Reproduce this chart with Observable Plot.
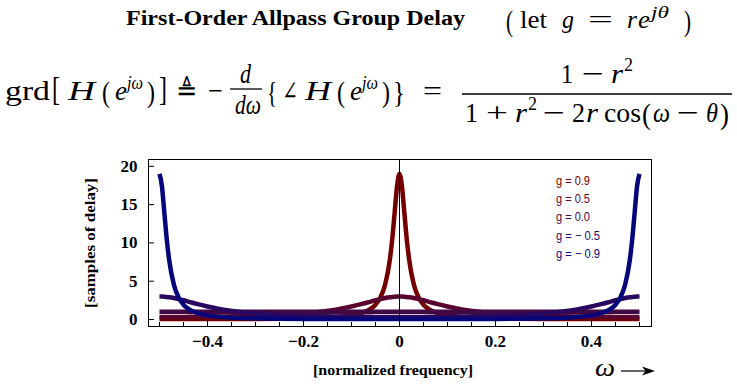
<!DOCTYPE html>
<html><head><meta charset="utf-8">
<script src="https://cdn.jsdelivr.net/npm/d3@7"></script>
<script src="https://cdn.jsdelivr.net/npm/@observablehq/plot@0.6"></script>
<style>
html,body{margin:0;padding:0;background:#fff;}
#page{position:relative;width:737px;height:387px;overflow:hidden;background:#fff;}
#page svg.layer{position:absolute;left:0;top:0;}
#chart{position:absolute;left:0;top:140px;}
</style></head><body><div id="page"><div id="chart"></div></div>
<script>
// ---------- data ----------
const freq = [-0.5,-0.495,-0.49,-0.485,-0.48,-0.47,-0.46,-0.45,-0.44,-0.42,-0.4,-0.37,-0.34,-0.3,-0.25,-0.2,-0.16,-0.13,-0.1,-0.08,-0.06,-0.05,-0.04,-0.03,-0.02,-0.015,-0.01,-0.005,0,0.005,0.01,0.015,0.02,0.03,0.04,0.05,0.06,0.08,0.1,0.13,0.16,0.2,0.25,0.3,0.34,0.37,0.4,0.42,0.44,0.45,0.46,0.47,0.48,0.485,0.49,0.495,0.5];
const delayG09 = [0.053,0.053,0.053,0.053,0.053,0.053,0.054,0.054,0.055,0.056,0.058,0.063,0.069,0.080,0.105,0.152,0.225,0.329,0.537,0.817,1.393,1.937,2.855,4.54,7.85,10.56,14.02,17.45,19,17.45,14.02,10.56,7.85,4.54,2.855,1.937,1.393,0.817,0.537,0.329,0.225,0.152,0.105,0.080,0.069,0.063,0.058,0.056,0.055,0.054,0.054,0.053,0.053,0.053,0.053,0.053,0.053];
const delayG05 = [0.333,0.333,0.334,0.334,0.335,0.336,0.338,0.341,0.344,0.353,0.364,0.388,0.420,0.481,0.6,0.797,1.050,1.326,1.701,2.007,2.342,2.509,2.665,2.802,2.908,2.948,2.977,2.994,3,2.994,2.977,2.948,2.908,2.802,2.665,2.509,2.342,2.007,1.701,1.326,1.050,0.797,0.6,0.481,0.420,0.388,0.364,0.353,0.344,0.341,0.338,0.336,0.335,0.334,0.334,0.333,0.333];
const freqG00 = [-0.5,0,0.5];
const delayG00 = [1,1,1];
const delayGm05 = [3,2.994,2.977,2.948,2.908,2.802,2.665,2.509,2.342,2.007,1.701,1.326,1.050,0.797,0.6,0.481,0.420,0.388,0.364,0.353,0.344,0.341,0.338,0.336,0.335,0.334,0.334,0.333,0.333,0.333,0.334,0.334,0.335,0.336,0.338,0.341,0.344,0.353,0.364,0.388,0.420,0.481,0.6,0.797,1.050,1.326,1.701,2.007,2.342,2.509,2.665,2.802,2.908,2.948,2.977,2.994,3];
const delayGm09 = [19,17.45,14.02,10.56,7.85,4.54,2.855,1.937,1.393,0.817,0.537,0.329,0.225,0.152,0.105,0.080,0.069,0.063,0.058,0.056,0.055,0.054,0.054,0.053,0.053,0.053,0.053,0.053,0.053,0.053,0.053,0.053,0.053,0.053,0.054,0.054,0.055,0.056,0.058,0.063,0.069,0.080,0.105,0.152,0.225,0.329,0.537,0.817,1.393,1.937,2.855,4.54,7.85,10.56,14.02,17.45,19];
const seriesLabels = ["g = 0.9","g = 0.5","g = 0.0","g = \u2212 0.5","g = \u2212 0.9"];
const seriesColors = ["#720000","#5a0530","#420842","#2a0860","#06067a"];
const xMajorTicks = [-0.4,-0.2,0,0.2,0.4];
const xMinorTicks = [-0.5,-0.45,-0.35,-0.3,-0.25,-0.15,-0.1,-0.05,0.05,0.1,0.15,0.25,0.3,0.35,0.45,0.5];
const yMajorTicks = [0,5,10,15,20];

const series = [
  {x: freq, y: delayG09},
  {x: freq, y: delayG05},
  {x: freqG00, y: delayG00},
  {x: freq, y: delayGm05},
  {x: freq, y: delayGm09}
];
const rows = [];
series.forEach((s, i) => s.x.forEach((x, j) => rows.push({x, y: s.y[j], k: i})));

// ---------- chart ----------
const W = 737, H = 247, ML = 148, MR = 86, MT = 19, MB = 61;
const innerW = W - ML - MR, innerH = H - MT - MB;
const serif = "'Liberation Serif','DejaVu Serif',serif";
const chart = Plot.plot({
  width: W, height: H, marginLeft: ML, marginRight: MR, marginTop: MT, marginBottom: MB,
  x: {domain: [-0.5229, 0.525]},
  y: {domain: [-0.914, 20.89]},
  style: {background: "transparent", fontFamily: serif, fontSize: "17px", color: "#000", overflow: "visible"},
  marks: [
    ...series.map((s, i) => Plot.line(rows.filter(r => r.k === i), {
      x: "x", y: "y", stroke: seriesColors[i], strokeWidth: 4.5, curve: "monotone-x", strokeLinecap: "butt"
    })),
    Plot.ruleX([0], {stroke: "#000", strokeWidth: 1}),
    Plot.frame({stroke: "#000", strokeWidth: 1}),
    Plot.tickX(xMajorTicks, {x: d => d, insetTop: innerH - 6, stroke: "#000"}),
    Plot.tickX(xMinorTicks, {x: d => d, insetTop: innerH - 4, stroke: "#000"}),
    Plot.tickY(yMajorTicks, {y: d => d, insetRight: innerW - 6, stroke: "#000"}),
    Plot.axisX(xMajorTicks, {anchor: "bottom", tickSize: 0, tickPadding: 8, label: null, tickFormat: d3.format(""), fontFamily: serif, fontSize: 17, fontWeight: "bold"}),
    Plot.axisY(yMajorTicks, {anchor: "left", tickSize: 0, tickPadding: 11, label: null, tickFormat: d3.format(""), fontFamily: serif, fontSize: 17, fontWeight: "bold"})
  ]
});
document.getElementById("chart").appendChild(chart);

// ---------- text layers ----------
const NS = "http://www.w3.org/2000/svg";
function layer() {
  const s = document.createElementNS(NS, "svg");
  s.setAttribute("class", "layer");
  s.setAttribute("width", W); s.setAttribute("height", 387);
  document.getElementById("page").appendChild(s);
  return s;
}
function T(svg, x, y, str, o = {}) {
  const t = document.createElementNS(NS, "text");
  t.setAttribute("x", x); t.setAttribute("y", y);
  t.setAttribute("font-family", o.family || serif);
  t.setAttribute("font-size", o.size || 28);
  if (o.italic) t.setAttribute("font-style", "italic");
  if (o.bold) t.setAttribute("font-weight", "bold");
  if (o.len) { t.setAttribute("textLength", o.len); t.setAttribute("lengthAdjust", "spacingAndGlyphs"); }
  if (o.anchor) t.setAttribute("text-anchor", o.anchor);
  if (o.fill) t.setAttribute("fill", o.fill);
  if (o.transform) t.setAttribute("transform", o.transform);
  t.textContent = str;
  svg.appendChild(t);
  return t;
}
function L(svg, x1, y1, x2, y2, w) {
  const l = document.createElementNS(NS, "line");
  l.setAttribute("x1", x1); l.setAttribute("y1", y1); l.setAttribute("x2", x2); l.setAttribute("y2", y2);
  l.setAttribute("stroke", "#000"); l.setAttribute("stroke-width", w);
  svg.appendChild(l);
}
const hd = layer();
// title
T(hd, 126, 25, "First-Order Allpass Group Delay", {size: 20, bold: true, len: 339});
T(hd, 506, 31, "(", {size: 30, len: 7});
T(hd, 520, 28, "let", {size: 26, len: 27});
T(hd, 562, 28, "g", {size: 26, italic: true, len: 12});
T(hd, 588, 28, "=", {size: 26, len: 25});
T(hd, 627, 28, "r", {size: 26, italic: true, len: 10});
T(hd, 638, 28, "e", {size: 26, italic: true, len: 12});
T(hd, 651, 18, "j\u03B8", {size: 17, italic: true, len: 18});
T(hd, 684, 31, ")", {size: 30, len: 7});
// formula
T(hd, 5, 100, "grd", {size: 28, len: 45});
T(hd, 52, 100, "[", {size: 34, len: 8});
T(hd, 68, 100, "H", {size: 28, italic: true, len: 27});
T(hd, 102, 102, "(", {size: 30, len: 8});
T(hd, 115, 100, "e", {size: 28, italic: true, len: 12});
T(hd, 127, 89, "j\u03C9", {size: 18, italic: true, len: 16});
T(hd, 147, 102, ")", {size: 30, len: 8});
T(hd, 159, 100, "]", {size: 34, len: 8});
T(hd, 176, 100, "\u225C", {size: 28, len: 21, family: "'DejaVu Serif',serif"});
T(hd, 208, 100, "\u2212", {size: 28, len: 15});
T(hd, 240, 83, "d", {size: 28, italic: true, len: 11});
L(hd, 230, 89, 262, 89, 1.3);
T(hd, 235, 114, "d\u03C9", {size: 28, italic: true, len: 26});
T(hd, 267, 102, "{", {size: 30, len: 10});
T(hd, 282, 100, "\u2220", {size: 26, len: 16});
T(hd, 305, 100, "H", {size: 28, italic: true, len: 26});
T(hd, 337, 102, "(", {size: 30, len: 8});
T(hd, 350, 100, "e", {size: 28, italic: true, len: 12});
T(hd, 362, 89, "j\u03C9", {size: 18, italic: true, len: 16});
T(hd, 382, 102, ")", {size: 30, len: 8});
T(hd, 393, 102, "}", {size: 30, len: 12});
T(hd, 423, 100, "=", {size: 28, len: 19});
L(hd, 462, 94, 732, 94, 1.5);
T(hd, 561, 83, "1", {size: 28, len: 12});
T(hd, 582, 83, "\u2212", {size: 28, len: 22});
T(hd, 611, 83, "r", {size: 28, italic: true, len: 12});
T(hd, 624, 71, "2", {size: 19, len: 9});
T(hd, 465, 122, "1", {size: 28, len: 13});
T(hd, 486, 122, "+", {size: 28, len: 22});
T(hd, 515, 122, "r", {size: 28, italic: true, len: 12});
T(hd, 528, 110, "2", {size: 19, len: 9});
T(hd, 543, 122, "\u2212", {size: 28, len: 22});
T(hd, 572, 122, "2", {size: 28, len: 13});
T(hd, 586, 122, "r", {size: 28, italic: true, len: 12});
T(hd, 604, 122, "cos", {size: 28, len: 37});
T(hd, 642, 124, "(", {size: 30, len: 9});
T(hd, 653, 122, "\u03C9", {size: 28, italic: true, len: 17});
T(hd, 677, 122, "\u2212", {size: 28, len: 22});
T(hd, 706, 122, "\u03B8", {size: 28, italic: true, len: 12});
T(hd, 720, 124, ")", {size: 30, len: 9});

// axis labels, legend, omega arrow
const ov = layer();
T(ov, 0, 0, "[samples of delay]", {size: 15, bold: true, len: 130, anchor: "middle", transform: "translate(95,243) rotate(-90)"});
T(ov, 393, 375, "[normalized frequency]", {size: 15, bold: true, len: 160, anchor: "middle"});
T(ov, 595, 376, "\u03C9", {size: 26, italic: true, len: 20});
L(ov, 621, 371, 648, 371, 1.2);
const ah = document.createElementNS(NS, "polygon");
ah.setAttribute("points", "655,371 642,366.5 645.5,371 642,375.5");
ah.setAttribute("fill", "#000");
ov.appendChild(ah);
const legendBaselines = [185, 203, 221, 240, 258];
const legendWidths = [34, 34, 34, 44, 44];
seriesLabels.forEach((s, i) => T(ov, 556, legendBaselines[i], s, {size: 12.5, family: "'Liberation Sans',Arial,sans-serif", fill: seriesColors[i], len: legendWidths[i]}));
</script></body></html>
